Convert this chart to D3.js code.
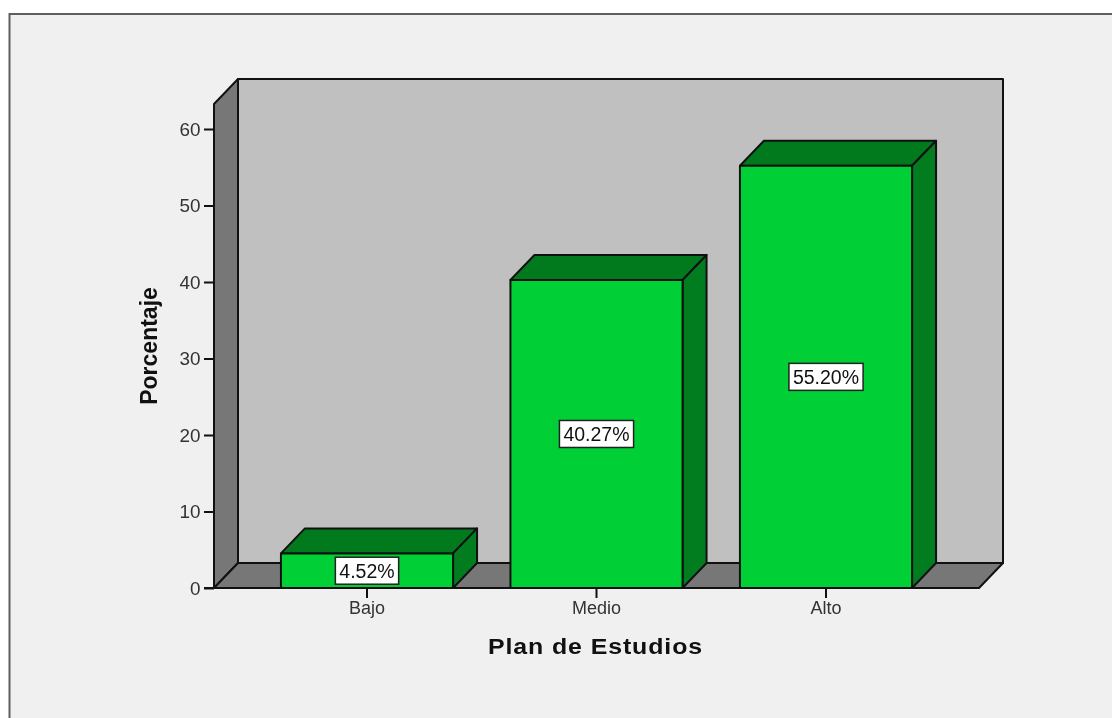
<!DOCTYPE html>
<html><head><meta charset="utf-8">
<script src="https://cdn.jsdelivr.net/npm/d3@7/dist/d3.min.js"></script>
<style>html,body{margin:0;padding:0;background:#fff;overflow:hidden}svg{display:block;filter:blur(0.5px)}text{font-family:"Liberation Sans",Arial,sans-serif}</style>
</head><body><svg id="c" width="1112" height="718"></svg>
<script>
const categories = ["Bajo","Medio","Alto"];
const percentages = [4.52,40.27,55.20];
const valueLabels = ["4.52%","40.27%","55.20%"];
const yTicks = [0,10,20,30,40,50,60];
const yTitle = "Porcentaje";
const xTitle = "Plan de Estudios";

const svg = d3.select("#c");
const y = d3.scaleLinear().domain([0,60]).range([588,129]);
const x = d3.scaleBand().domain(categories).range([252.25,940.75]).paddingInner(0.25).paddingOuter(0.125);
const dx = 24, dy = -25;
const left = 214, right = 979, floorY = y(0), topY = 104;
const ink = "#111";
const poly = (pts,fill,sw=2)=>svg.append("path").attr("d",d3.line()(pts)+"Z").attr("fill",fill).attr("stroke",ink).attr("stroke-width",sw).attr("stroke-linejoin","round");

// panel
svg.append("rect").attr("x",9.5).attr("y",14).attr("width",1120).attr("height",730).attr("fill","#f0f0f0").attr("stroke","#5f5f5f").attr("stroke-width",2);

// walls
poly([[left+dx,topY+dy],[right+dx,topY+dy],[right+dx,floorY+dy],[left+dx,floorY+dy]],"#c0c0c0");
poly([[left,topY],[left+dx,topY+dy],[left+dx,floorY+dy],[left,floorY]],"#777777");
poly([[left,floorY],[left+dx,floorY+dy],[right+dx,floorY+dy],[right,floorY]],"#777777");

// y axis
const yAxis = svg.append("g").attr("transform",`translate(${left},0)`).call(d3.axisLeft(y).tickValues(yTicks).tickSize(10).tickPadding(3.5));
yAxis.select(".domain").remove();
yAxis.selectAll("line").attr("stroke",ink).attr("stroke-width",2);
yAxis.selectAll("text").attr("font-size",18).attr("fill","#333").attr("font-family","Liberation Sans").attr("dy","0.36em").attr("textLength",21).attr("lengthAdjust","spacingAndGlyphs");
yAxis.selectAll("text").filter(d=>d===0).attr("textLength",10.5);

// bars
categories.forEach((c,i)=>{
  const x0 = x(c), x1 = x0+x.bandwidth(), t = y(percentages[i]), b = y(0);
  poly([[x0,t],[x0+dx,t+dy],[x1+dx,t+dy],[x1,t]],"#017a1e");
  poly([[x1,t],[x1+dx,t+dy],[x1+dx,b+dy],[x1,b]],"#017d20");
  poly([[x0,t],[x1,t],[x1,b],[x0,b]],"#00cf35");
});

// x axis
const xAxis = svg.append("g").attr("transform",`translate(0,${floorY})`).call(d3.axisBottom(x).tickSize(10).tickPadding(3.5));
xAxis.select(".domain").remove();
xAxis.selectAll("line").attr("stroke",ink).attr("stroke-width",2);
xAxis.selectAll("text").attr("font-size",18).attr("fill","#333").attr("font-family","Liberation Sans");
svg.append("line").attr("x1",left-10).attr("x2",right).attr("y1",floorY).attr("y2",floorY).attr("stroke",ink).attr("stroke-width",2);

// value labels
categories.forEach((c,i)=>{
  const cx = x(c)+x.bandwidth()/2, cy = y(percentages[i]/2);
  const g = svg.append("g");
  const r = g.append("rect").attr("fill","#fff").attr("stroke","#222").attr("stroke-width",1.5);
  const t = g.append("text").attr("x",cx).attr("y",cy).attr("dy","0.36em").attr("text-anchor","middle").attr("font-size",19.5).attr("fill","#111").text(valueLabels[i]);
  const w = t.node().getComputedTextLength();
  r.attr("x",cx-w/2-4).attr("y",cy-13.5).attr("width",w+8).attr("height",27);
});

// titles
svg.append("text").attr("transform","translate(149,346) rotate(-90)").attr("dy","0.35em").attr("text-anchor","middle").attr("font-size",23).attr("font-weight","bold").attr("fill","#111").text(yTitle);
svg.append("text").attr("x",595.5).attr("y",646).attr("dy","0.35em").attr("text-anchor","middle").attr("font-size",22.5).attr("font-weight","bold").attr("letter-spacing","0.8px").attr("textLength",215).attr("lengthAdjust","spacingAndGlyphs").attr("fill","#111").text(xTitle);
</script></body></html>
